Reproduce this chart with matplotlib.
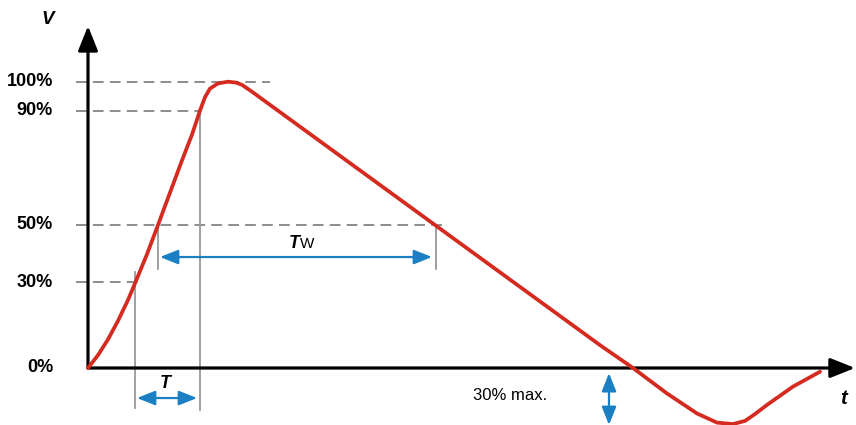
import numpy as np
import matplotlib.pyplot as plt

# surge waveform, t in px-ish units from origin, v in % of peak
t = [0, 10, 20, 30, 40, 47, 59, 70, 84, 94, 104, 112, 117, 122, 130, 140, 148, 154, 164,
     347, 512, 545, 579, 609, 629, 645, 657, 667, 679, 705, 732]
v = [0, 4.5, 10, 16.5, 23.8, 29.6, 39.8, 50, 63.2, 72.6, 81.6, 90, 94.7, 97.7, 99.5, 100.1, 99.8, 99, 96.6,
     50, 8, 0, -8.9, -15.9, -19.1, -19.6, -18.5, -16.1, -12.9, -6.5, -1.3]

levels = [100, 90, 50, 30]
level_labels = ["100%", "90%", "50%", "30%"]
level_ends = [182, 112, 359, 52]   # where each dashed guide stops
t30, t50, t90, t50b = 47, 70, 112, 348

red = "#d42a20"
blue = "#1b7fc4"
grey = "#8c8c8c"

plt.rcParams['font.family'] = ['Liberation Sans', 'DejaVu Sans']

fig = plt.figure(figsize=(8.56, 4.25), dpi=100)
ax = fig.add_axes([0, 0, 1, 1])
ax.set_xlim(-88, 768)
ax.set_ylim(-57 / 2.86, 368 / 2.86)
ax.axis("off")

# dashed guides
for lv, end in zip(levels, level_ends):
    ax.plot([-12, end], [lv, lv], color=grey, lw=1.4, dashes=(5.5, 3.2), zorder=1)

# vertical guides
ax.plot([t30, t30], [33.5, -14], color="#999999", lw=1.3, zorder=1)
ax.plot([t90, t90], [90, -14.7], color="#999999", lw=1.3, zorder=1)
ax.plot([t50, t50], [50, 34.5], color="#999999", lw=1.3, zorder=1)
ax.plot([t50b, t50b], [50, 34.5], color="#999999", lw=1.3, zorder=1)

# axes with arrows
axkw = dict(arrowstyle="-|>,head_length=0.75,head_width=0.3", color="black",
            lw=2.3, shrinkA=0, shrinkB=0, mutation_scale=20)
ax.annotate("", xy=(0, 119.6), xytext=(0, 0), arrowprops=axkw, zorder=3)
ax.annotate("", xy=(767, 0), xytext=(0, 0), arrowprops=axkw, zorder=3)

# waveform
ax.plot(t, v, color=red, lw=2.7, solid_capstyle="round", solid_joinstyle="round", zorder=4)

# blue dimension arrows
bkw = dict(arrowstyle="<|-|>,head_length=0.55,head_width=0.22", color=blue,
           lw=1.6, shrinkA=0, shrinkB=0, mutation_scale=20)
ax.annotate("", xy=(t50b - 4, 38.8), xytext=(t50 + 2, 38.8), arrowprops=bkw, zorder=2)
ax.annotate("", xy=(t90 - 3, -10.5), xytext=(t30 + 2, -10.5), arrowprops=bkw, zorder=2)
ax.annotate("", xy=(521, -19.9), xytext=(521, -1.8), arrowprops=bkw, zorder=2)

# labels
for lv, lab in zip(levels, level_labels):
    ax.text(-35, lv, lab, ha="right", va="center", fontsize=13, fontweight="bold")
ax.text(-35, 0, "0%", ha="right", va="center", fontsize=13, fontweight="bold")
ax.text(-40, 122, "V", ha="center", va="center", fontsize=13.5, fontweight="bold", style="italic")
ax.text(756, -10.5, "t", ha="center", va="center", fontsize=14.5, fontweight="bold", style="italic")
ax.text(77, -5.5, "T", ha="center", va="center", fontsize=13, fontweight="bold", style="italic")
ax.text(212, 42, "T", ha="right", va="baseline", fontsize=13, fontweight="bold", style="italic")
ax.text(212, 42, "W", ha="left", va="baseline", fontsize=11)
ax.text(385, -9.5, "30% max.", ha="left", va="center", fontsize=12)

fig.savefig("out.png", dpi=100)
